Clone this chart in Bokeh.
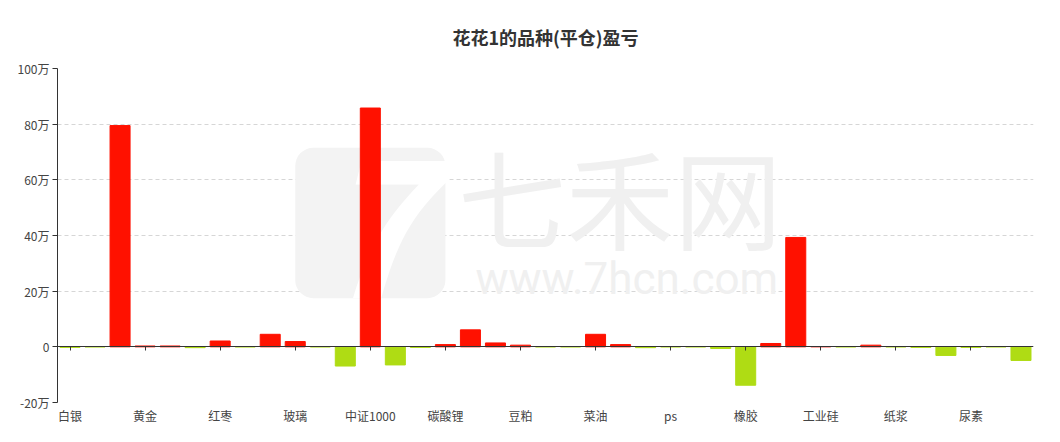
from bokeh.plotting import figure
from bokeh.models import FixedTicker, LinearAxis, Range1d, BoxAnnotation, Label, ColumnDataSource
from bokeh.embed import file_html
from bokeh.resources import INLINE

title_text = "花花1的品种(平仓)盈亏"
# visible category labels (every third category is labelled)
tick_labels = ["白银", "黄金", "红枣", "玻璃", "中证1000", "碳酸锂", "豆粕", "菜油",
               "ps", "橡胶", "工业硅", "纸浆", "尿素"]
# closed-position P&L per category (yuan), 39 categories
pnl = [-2000, 0, 795000, 3000, 3000, -3000, 21000, 0, 45000, 19000, 0, -69000,
       858000, -65000, -2000, 8000, 61000, 14000, 6000, 0, 0, 45000, 8000, -3000,
       0, 0, -6000, -138000, 12000, 393000, 1000, 0, 6000, 0, -2000, -31000,
       -2000, 0, -49000]
y_ticks = [-200000, 0, 200000, 400000, 600000, 800000, 1000000]

FONT = "Noto Sans CJK SC"
RED = "#ff1100"
GREEN = "#afdc14"

n = len(pnl)
idx = list(range(n))
colors = [RED if v > 0 else GREEN for v in pnl]
src = ColumnDataSource(dict(x=idx, top=pnl, color=colors))

p = figure(width=1044, height=426, output_backend="svg", toolbar_location=None,
           x_range=Range1d(-0.5, n - 0.5), y_range=Range1d(y_ticks[0], y_ticks[-1]),
           min_border_left=57, min_border_right=11, min_border_top=68, min_border_bottom=21)
p.outline_line_color = None
p.background_fill_color = "white"

# title
p.title.text = title_text
p.title.align = "center"
p.title.vertical_align = "top"
p.title.standoff = 34
p.title.text_font = FONT
p.title.text_font_size = "18px"
p.title.text_font_style = "bold"
p.title.text_color = "#333333"

# watermark
p.add_layout(BoxAnnotation(left=9.0, right=15.0, bottom=175000, top=715000,
                           fill_color="#f3f3f3", fill_alpha=1, line_color=None,
                           border_radius=18, level="underlay"))
p.add_layout(Label(x=9.9, y=175000, text="7", text_font=FONT, text_font_size="190px",
                   text_font_style="bold italic", text_color="white", level="underlay"))
p.add_layout(Label(x=15.5, y=265000, text="七禾网", text_font=FONT, text_font_size="108px",
                   text_color="#f0f0f0", level="underlay"))
p.add_layout(Label(x=16.2, y=150000, text="www.7hcn.com", text_font="Roboto",
                   text_font_size="44px", text_color="#f0f0f0", level="underlay"))

# grid
p.xgrid.grid_line_color = None
p.ygrid.ticker = FixedTicker(ticks=y_ticks)
p.ygrid.grid_line_color = "#d6d6d6"
p.ygrid.grid_line_dash = "4 3"

# bars
p.vbar(x="x", top="top", bottom=0, width=0.8, color="color", source=src)

# y axis
ya = p.yaxis[0]
ya.ticker = FixedTicker(ticks=y_ticks)
ya.major_label_overrides = {t: ("0" if t == 0 else f"{t // 10000}万") for t in y_ticks}
ya.minor_tick_line_color = None
ya.axis_line_color = "#333333"
ya.major_tick_line_color = "#333333"
ya.major_tick_out = 5
ya.major_tick_in = 0
ya.major_label_text_font = FONT
ya.major_label_text_font_size = "12px"
ya.major_label_text_color = "#444444"
ya.major_label_standoff = 3

# bottom x axis: labels only
label_ticks = list(range(0, n, 3))
xa = p.xaxis[0]
xa.ticker = FixedTicker(ticks=label_ticks)
xa.major_label_overrides = {t: lab for t, lab in zip(label_ticks, tick_labels)}
xa.axis_line_color = None
xa.major_tick_line_color = None
xa.major_tick_out = 0
xa.major_tick_in = 0
xa.minor_tick_line_color = None
xa.minor_tick_out = 0
xa.major_label_text_font = FONT
xa.major_label_text_font_size = "12px"
xa.major_label_text_color = "#444444"
xa.major_label_standoff = 4

# zero-line axis with downward ticks (no labels), kept in the top panel
za = LinearAxis(fixed_location=0, ticker=FixedTicker(ticks=label_ticks))
za.axis_line_color = "#333333"
za.major_tick_line_color = "#333333"
za.major_tick_out = 0
za.major_tick_in = 4
za.minor_tick_line_color = None
za.major_label_text_color = None
za.major_label_standoff = 0
p.add_layout(za, "above")

open("out.html", "w").write(file_html(p, INLINE))
